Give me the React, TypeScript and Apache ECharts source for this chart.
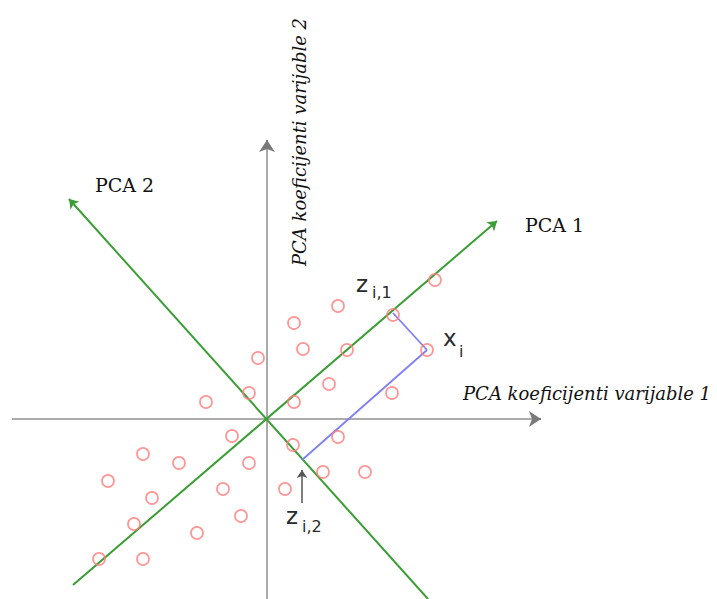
import React, { useEffect, useRef } from "react";
import * as echarts from "echarts";

// Observations (PCA koeficijenti varijable 1, varijable 2)
const pointsX = [16.8, 7.1, 2.7, 12.6, 16.0, 8.0, 3.6, -0.9, 6.2, 12.5, -1.8, -6.1, 2.7, -3.5, 2.6, 7.1, -12.4, -8.8, -1.8, 5.6, 9.8, -15.9, 1.8, -11.5, -4.4, -2.6, -13.3, -7.0, -16.8, -12.4];
const pointsY = [13.9, 11.3, 9.6, 10.4, 6.9, 6.9, 7.0, 6.1, 3.5, 2.6, 2.6, 1.7, 1.7, -1.7, -2.6, -1.8, -3.5, -4.4, -4.4, -5.3, -5.3, -6.2, -7.0, -7.9, -7.0, -9.7, -10.5, -11.4, -14.0, -14.0];

// Original axes (start, end)
const axis1 = [[-25.5, 0], [27.4, 0]];
const axis2 = [[0, -18.5], [0, 27.9]];

// Principal component directions (start, end)
const pca1 = [[-19.4, -16.6], [23.0, 19.8]];
const pca2 = [[16.1, -18.0], [-19.8, 22.0]];

// Highlighted observation and its projections
const xi = [16.0, 6.9];
const zi1 = [12.6, 10.6];
const zi2 = [3.5, -4.1];
const zi2Pointer = [[3.5, -8.4], [3.5, -5.1]];

const X_MIN = -26.7;
const X_MAX = 45.0;
const Y_MIN = -18.0;
const Y_MAX = 41.9;

function arrowHead(seg: number[][], frac: number) {
  const [a, b] = seg;
  const s = [b[0] - (b[0] - a[0]) * frac, b[1] - (b[1] - a[1]) * frac];
  return [s, b];
}

export default function App() {
  const ref = useRef<HTMLDivElement>(null);
  useEffect(() => {
    if (!ref.current) return;
    const chart = echarts.init(ref.current, null, { renderer: "svg" });
    const serifLabel = "DejaVu Serif";
    const sans = "DejaVu Sans";
    chart.setOption({
      animation: false,
      backgroundColor: "#ffffff",
      grid: { left: 0, right: 0, top: 0, bottom: 0 },
      xAxis: { type: "value", min: X_MIN, max: X_MAX, show: false },
      yAxis: { type: "value", min: Y_MIN, max: Y_MAX, show: false },
      series: [
        {
          type: "lines",
          coordinateSystem: "cartesian2d",
          silent: true,
          z: 1,
          symbol: ["none", "none"],
          lineStyle: { color: "#ababab", width: 2, opacity: 1, curveness: 0 },
          data: [{ coords: axis1 }, { coords: axis2 }],
        },
        {
          type: "lines",
          coordinateSystem: "cartesian2d",
          silent: true,
          z: 2,
          symbol: ["none", "arrow"],
          symbolSize: [7, 12],
          lineStyle: { color: "#7a7a7a", width: 2, opacity: 1, curveness: 0 },
          data: [{ coords: arrowHead(axis1, 0.01) }, { coords: arrowHead(axis2, 0.01) }],
        },
        {
          type: "lines",
          coordinateSystem: "cartesian2d",
          silent: true,
          z: 3,
          symbol: ["none", "arrow"],
          symbolSize: [6, 9],
          lineStyle: { color: "#3a9e34", width: 2, opacity: 1, curveness: 0 },
          data: [{ coords: pca1 }, { coords: pca2 }],
        },
        {
          type: "lines",
          coordinateSystem: "cartesian2d",
          silent: true,
          z: 4,
          symbol: ["none", "none"],
          lineStyle: { color: "#7f7ff5", width: 1.8, opacity: 1, curveness: 0 },
          data: [{ coords: [xi, zi1] }, { coords: [xi, zi2] }],
        },
        {
          type: "lines",
          coordinateSystem: "cartesian2d",
          silent: true,
          z: 4,
          symbol: ["none", "arrow"],
          symbolSize: [5, 8],
          lineStyle: { color: "#555555", width: 1.5, opacity: 1, curveness: 0 },
          data: [{ coords: zi2Pointer }],
        },
        {
          type: "scatter",
          silent: true,
          z: 5,
          symbol: "circle",
          symbolSize: 12,
          itemStyle: { color: "rgba(255,255,255,0)", borderColor: "#ff7b7b", borderWidth: 1.7 },
          data: pointsX.map((x, i) => [x, pointsY[i]]),
        },
      ],
      graphic: [
        { type: "text", x: 95, y: 185, style: { text: "PCA 2", font: `19px '${serifLabel}'`, fill: "#111", align: "left", verticalAlign: "middle" } },
        { type: "text", x: 525, y: 225, style: { text: "PCA 1", font: `19px '${serifLabel}'`, fill: "#111", align: "left", verticalAlign: "middle" } },
        { type: "text", x: 463, y: 393, style: { text: "PCA koeficijenti varijable 1", font: `italic 18px '${serifLabel}'`, fill: "#111", align: "left", verticalAlign: "middle" } },
        { type: "text", x: 299, y: 142, rotation: Math.PI / 2, style: { text: "PCA koeficijenti varijable 2", font: `italic 18px '${serifLabel}'`, fill: "#111", align: "center", verticalAlign: "middle" } },
        { type: "text", x: 356, y: 284, style: { text: "z", font: `23px '${sans}'`, fill: "#2a2a2a", align: "left", verticalAlign: "middle" } },
        { type: "text", x: 372, y: 292.5, style: { text: "i,1", font: `16px '${sans}'`, fill: "#2a2a2a", align: "left", verticalAlign: "middle" } },
        { type: "text", x: 443, y: 338, style: { text: "x", font: `23px '${sans}'`, fill: "#2a2a2a", align: "left", verticalAlign: "middle" } },
        { type: "text", x: 459, y: 351, style: { text: "i", font: `16px '${sans}'`, fill: "#2a2a2a", align: "left", verticalAlign: "middle" } },
        { type: "text", x: 286, y: 516, style: { text: "z", font: `23px '${sans}'`, fill: "#2a2a2a", align: "left", verticalAlign: "middle" } },
        { type: "text", x: 302, y: 526, style: { text: "i,2", font: `16px '${sans}'`, fill: "#2a2a2a", align: "left", verticalAlign: "middle" } },
      ],
    });
    return () => chart.dispose();
  }, []);
  return (
    <div
      ref={ref}
      style={{ position: "fixed", left: 0, top: 0, width: 717, height: 599, background: "#fff" }}
    />
  );
}
